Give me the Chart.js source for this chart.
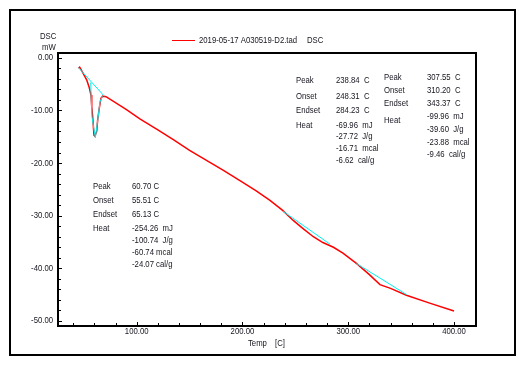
<!DOCTYPE html>
<html>
<head>
<meta charset="utf-8">
<script src="https://cdn.jsdelivr.net/npm/chart.js@4.4.1/dist/chart.umd.min.js"></script>
<style>
  html, body { margin: 0; padding: 0; background: #fff; }
</style>
</head>
<body>
<canvas id="dscChart" width="525" height="365"></canvas>
<script>
// DSC curve (temperature in C, heat flow in mW)
const tempC = [45, 46.1, 49.5, 52.7, 54.9, 56.8, 57.5, 58.4, 59.6, 60.5, 62.2, 63.1, 64.6, 66.2, 67.9, 71,
  90, 103, 120, 135, 150, 166, 182, 198, 213, 226, 238, 248, 257, 267, 276, 286, 295, 308, 320, 330, 340, 355, 377, 400];
const dscMW = [-2.0, -1.8, -3.0, -4.2, -5.5, -7.1, -9.3, -11.2, -14.7, -14.9, -14.0, -11.8, -9.6, -7.7, -7.3, -7.4,
  -9.8, -11.6, -13.7, -15.6, -17.6, -19.5, -21.4, -23.4, -25.3, -27.1, -29.0, -30.9, -32.4, -34.0, -35.1, -36.0, -37.1, -39.1, -41.2, -43.1, -43.8, -45.1, -46.6, -48.1];

// integration baselines (cyan)
const base1X = [45, 69.4];
const base1Y = [-1.9, -7.3];
const peak1X = [56.5, 57.7, 60.9, 63.4, 65.3, 67.5];
const peak1Y = [-4.7, -11.2, -15.2, -11.5, -8.4, -7.3];
const base2X = [238.6, 282.7];
const base2Y = [-29.2, -35.4];
const base3X = [307.9, 355.3];
const base3Y = [-39.1, -45.0];

// axis ticks
const xTicks = [100, 200, 300, 400];
const yTicks = [0, -10, -20, -30, -40, -50];

// peak analysis texts
const peak1Labels = ['Peak', 'Onset', 'Endset', 'Heat'];
const peak1Values = ['60.70 C', '55.51 C', '65.13 C', '-254.26  mJ', '-100.74  J/g', '-60.74 mcal', '-24.07 cal/g'];
const peak2Labels = ['Peak', 'Onset', 'Endset', 'Heat'];
const peak2Values = ['238.84  C', '248.31  C', '284.23  C', '-69.96  mJ', '-27.72  J/g', '-16.71  mcal', '-6.62  cal/g'];
const peak3Labels = ['Peak', 'Onset', 'Endset', 'Heat'];
const peak3Values = ['307.55  C', '310.20  C', '343.37  C', '-99.96  mJ', '-39.60  J/g', '-23.88  mcal', '-9.46  cal/g'];

const legendText = '2019-05-17 A030519-D2.tad';

const FONT = "9px 'Liberation Sans', Arial, sans-serif";
const TEXT_COLOR = '#161620';
const SQUEEZE = 0.86; // the original uses a narrow face

function toPoints(xs, ys) {
  return xs.map((x, i) => ({ x: x, y: ys[i] }));
}

function lineSet(xs, ys, color, width) {
  return {
    data: toPoints(xs, ys),
    showLine: true,
    borderColor: color,
    backgroundColor: color,
    borderWidth: width,
    pointRadius: 0,
    tension: 0
  };
}

function narrowText(ctx, text, x, y, align) {
  ctx.save();
  ctx.translate(x, y);
  ctx.scale(SQUEEZE, 1);
  ctx.textAlign = align || 'left';
  ctx.fillText(text, 0, 0);
  ctx.restore();
}

// frame, ticks, tick labels, legend, titles and the peak tables
const decorPlugin = {
  id: 'decor',
  afterDraw(chart) {
    const ctx = chart.ctx;
    const area = chart.chartArea;
    const xs = chart.scales.x;
    const ys = chart.scales.y;
    ctx.save();

    // outer frame
    ctx.strokeStyle = '#000';
    ctx.lineWidth = 2;
    ctx.strokeRect(10, 10, 505, 345);
    // plot frame
    ctx.strokeRect(area.left, area.top, area.right - area.left, area.bottom - area.top);

    // tick marks pointing into the plot
    ctx.lineWidth = 1;
    ctx.beginPath();
    for (let v = 40; v <= 420; v += 20) {
      const px = Math.round(xs.getPixelForValue(v)) + 0.5;
      if (px <= area.left || px >= area.right) continue;
      const len = v % 100 === 0 ? 4 : 3;
      ctx.moveTo(px, area.bottom);
      ctx.lineTo(px, area.bottom - len);
    }
    for (let v = -50; v <= 0; v += 2) {
      const py = Math.round(ys.getPixelForValue(v)) + 0.5;
      const len = v % 10 === 0 ? 4 : 3;
      ctx.moveTo(area.left, py);
      ctx.lineTo(area.left + len, py);
    }
    ctx.stroke();

    ctx.font = FONT;
    ctx.fillStyle = TEXT_COLOR;
    ctx.textBaseline = 'middle';

    // tick labels
    xs.ticks.forEach(t => narrowText(ctx, t.value.toFixed(2), xs.getPixelForValue(t.value), area.bottom + 6, 'center'));
    ys.ticks.forEach(t => narrowText(ctx, t.value.toFixed(2), area.left - 5, ys.getPixelForValue(t.value), 'right'));

    // legend
    ctx.strokeStyle = '#ff0000';
    ctx.lineWidth = 1;
    ctx.beginPath();
    ctx.moveTo(172, 40.5);
    ctx.lineTo(195, 40.5);
    ctx.stroke();
    narrowText(ctx, legendText, 199, 41);
    narrowText(ctx, 'DSC', 307, 41);

    // axis titles
    narrowText(ctx, 'DSC', 40, 37);
    narrowText(ctx, 'mW', 42, 48);
    narrowText(ctx, 'Temp', 248, 344);
    narrowText(ctx, '[C]', 275, 344);

    // peak tables
    function table(labels, values, lx, vx, labelYs, valueYs) {
      labels.forEach((t, i) => narrowText(ctx, t, lx, labelYs[i]));
      values.forEach((t, i) => narrowText(ctx, t, vx, valueYs[i]));
    }
    table(peak1Labels, peak1Values, 93, 132,
      [187, 201, 215, 229], [187, 201, 215, 229, 241, 253, 264.5]);
    table(peak2Labels, peak2Values, 296, 336,
      [81, 96.5, 111, 125.5], [81, 96.5, 111, 125.5, 137, 148.5, 160.5]);
    table(peak3Labels, peak3Values, 384, 427,
      [78, 91, 103.5, 121], [78, 91, 103.5, 117, 130, 143, 155]);

    ctx.restore();
  }
};

const chart = new Chart(document.getElementById('dscChart'), {
  type: 'scatter',
  data: {
    datasets: [
      lineSet(base1X, base1Y, '#00f0f0', 1),
      lineSet(peak1X, peak1Y, '#00f0f0', 1),
      lineSet(base2X, base2Y, '#00f0f0', 1),
      lineSet(base3X, base3Y, '#00f0f0', 1),
      lineSet(tempC, dscMW, '#ff0000', 1.5)
    ]
  },
  options: {
    responsive: false,
    animation: false,
    devicePixelRatio: 1,
    layout: { padding: { left: 0, top: 53, right: 49, bottom: 0 } },
    plugins: {
      legend: { display: false },
      tooltip: { enabled: false }
    },
    scales: {
      x: {
        type: 'linear',
        min: 25.6,
        max: 420.8,
        grid: { display: false, drawTicks: false },
        border: { display: false },
        ticks: { display: false },
        afterFit(scale) { scale.height = 39; },
        afterBuildTicks(scale) { scale.ticks = xTicks.map(v => ({ value: v })); }
      },
      y: {
        type: 'linear',
        min: -50.95,
        max: 0.9,
        grid: { display: false, drawTicks: false },
        border: { display: false },
        ticks: { display: false },
        afterFit(scale) { scale.width = 58; },
        afterBuildTicks(scale) { scale.ticks = yTicks.map(v => ({ value: v })); }
      }
    }
  },
  plugins: [decorPlugin]
});
</script>
</body>
</html>
